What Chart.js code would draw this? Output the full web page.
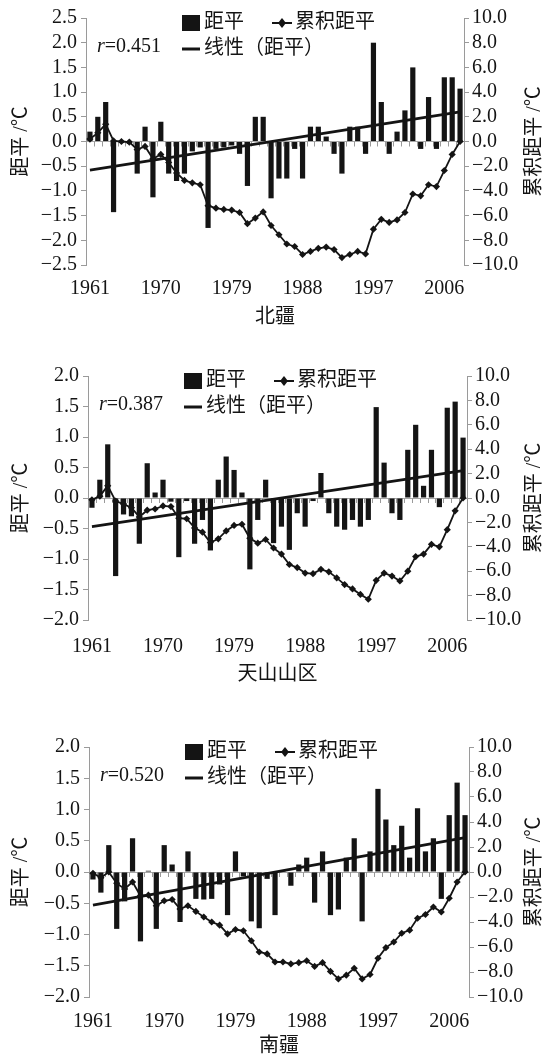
<!DOCTYPE html>
<html>
<head>
<meta charset="utf-8">
<script src="https://cdn.jsdelivr.net/npm/chart.js@4/dist/chart.umd.min.js"></script>
<style>
  html, body { margin: 0; padding: 0; background: #fff; }
  body { width: 549px; height: 1060px; position: relative; overflow: hidden; }
  canvas { position: absolute; left: 0; }
</style>
</head>
<body>
<canvas id="north" width="549" height="345" style="top:0px"></canvas>
<canvas id="tianshan" width="549" height="365" style="top:350px"></canvas>
<canvas id="south" width="549" height="345" style="top:715px"></canvas>
<script>
// Years 1961–2008
const years = [1961, 1962, 1963, 1964, 1965, 1966, 1967, 1968, 1969, 1970,
               1971, 1972, 1973, 1974, 1975, 1976, 1977, 1978, 1979, 1980,
               1981, 1982, 1983, 1984, 1985, 1986, 1987, 1988, 1989, 1990,
               1991, 1992, 1993, 1994, 1995, 1996, 1997, 1998, 1999, 2000,
               2001, 2002, 2003, 2004, 2005, 2006, 2007, 2008];
const yearTicks = [1961, 1970, 1979, 1988, 1997, 2006];

// 北疆
const northAnom = [0.2, 0.5, 0.8, -1.43, -0.03, -0.05, -0.65, 0.3, -1.13, 0.4,
                   -0.65, -0.8, -0.65, -0.2, -0.12, -1.75, -0.15, -0.12, -0.08, -0.25,
                   -0.9, 0.5, 0.5, -1.15, -0.75, -0.75, -0.15, -0.75, 0.3, 0.3,
                   0.1, -0.25, -0.65, 0.3, 0.3, -0.25, 2.0, 0.8, -0.25, 0.2,
                   0.63, 1.5, -0.15, 0.9, -0.15, 1.3, 1.3, 1.07];
const northCum = [0.2, 0.7, 1.4, 0.05, 0.0, -0.05, -0.65, -0.4, -1.4, -1.05,
                  -1.7, -2.55, -3.15, -3.35, -3.5, -5.2, -5.4, -5.5, -5.55, -5.75,
                  -6.65, -6.2, -5.7, -6.8, -7.55, -8.3, -8.5, -9.15, -8.9, -8.65,
                  -8.55, -8.75, -9.4, -9.15, -8.9, -9.1, -7.1, -6.3, -6.55, -6.35,
                  -5.75, -4.25, -4.4, -3.5, -3.65, -2.35, -1.05, 0.0];
const northTrend = [-0.58, 0.6];

// 天山山区
const tianshanAnom = [-0.16, 0.3, 0.88, -1.28, -0.27, -0.3, -0.75, 0.57, 0.09, 0.3,
                      -0.06, -0.97, -0.05, -0.75, -0.36, -0.86, 0.3, 0.68, 0.46, 0.09,
                      -1.17, -0.36, 0.3, -0.74, -0.47, -0.85, -0.25, -0.47, -0.05, 0.41,
                      -0.25, -0.47, -0.52, -0.36, -0.47, -0.36, 1.49, 0.58, -0.25, -0.36,
                      0.79, 1.2, 0.2, 0.79, -0.15, 1.48, 1.58, 0.99];
const tianshanCum = [-0.15, 0.15, 1.0, -0.25, -0.5, -0.8, -1.55, -1.0, -0.9, -0.65,
                     -0.7, -1.65, -1.7, -2.45, -2.8, -3.65, -3.35, -2.7, -2.25, -2.15,
                     -3.3, -3.7, -3.4, -4.1, -4.6, -5.45, -5.7, -6.15, -6.2, -5.85,
                     -6.05, -6.55, -7.1, -7.45, -7.9, -8.3, -6.75, -6.15, -6.4, -6.8,
                     -6.0, -4.8, -4.6, -3.8, -4.0, -2.6, -1.05, 0.0];
const tianshanTrend = [-0.47, 0.45];

// 南疆
const southAnom = [-0.12, -0.33, 0.43, -0.91, -0.47, 0.54, -1.11, 0.02, -0.91, 0.43,
                   0.12, -0.8, 0.33, -0.43, -0.44, -0.43, -0.2, -0.69, 0.33, -0.07,
                   -0.79, -0.9, -0.11, -0.69, 0.02, -0.22, 0.12, 0.23, -0.49, 0.33,
                   -0.69, -0.6, 0.23, 0.54, -0.79, 0.33, 1.33, 0.84, 0.43, 0.74,
                   0.23, 1.02, 0.33, 0.54, -0.43, 0.91, 1.43, 0.91];
const southCum = [-0.1, -0.45, 0.0, -0.9, -1.35, -0.8, -1.9, -1.85, -2.7, -2.3,
                  -2.2, -2.95, -2.7, -3.15, -3.6, -4.0, -4.25, -4.95, -4.6, -4.7,
                  -5.5, -6.4, -6.55, -7.2, -7.2, -7.35, -7.25, -7.1, -7.55, -7.25,
                  -7.95, -8.55, -8.25, -7.7, -8.55, -8.2, -6.9, -6.05, -5.6, -4.9,
                  -4.65, -3.7, -3.4, -2.8, -3.2, -2.1, -0.8, 0.0];
const southTrend = [-0.53, 0.55];

const panelTitles = ['北疆', '天山山区', '南疆'];
const rValues = ['0.451', '0.387', '0.520'];

const SERIF = '"Liberation Serif", "Times New Roman", serif';
const CJK = '"Liberation Serif", "Noto Sans CJK SC", serif';
const INK = '#141414';
const AXIS = '#9a9a9a';

function fmt(v) {
  const s = Math.abs(v) < 1e-9 ? '0.0' : Number(v).toFixed(1);
  return s.replace('-', '\u2212');
}

function vText(ctx, text, x, y) {
  ctx.save();
  ctx.translate(x, y);
  ctx.rotate(-Math.PI / 2);
  ctx.fillText(text, 0, 0);
  ctx.restore();
}

// Zero-line tick marks, axis titles, panel title, correlation and legend
const decor = {
  id: 'decor',
  beforeDatasetsDraw(chart) {
    const { ctx, chartArea: a, scales } = chart;
    const y0 = scales.y.getPixelForValue(0);
    const n = chart.data.labels.length;
    const w = (a.right - a.left) / n;
    ctx.save();
    ctx.strokeStyle = AXIS;
    ctx.lineWidth = 1;
    ctx.beginPath();
    for (let i = 0; i <= n; i++) {
      const x = Math.round(a.left + i * w) + 0.5;
      ctx.moveTo(x, y0);
      ctx.lineTo(x, y0 + 5);
    }
    ctx.stroke();
    ctx.restore();
  },
  afterDraw(chart, args, opts) {
    const { ctx, chartArea: a } = chart;
    const ds = chart.data.datasets;
    ctx.save();
    ctx.fillStyle = INK;
    ctx.strokeStyle = INK;
    ctx.textBaseline = 'middle';
    ctx.textAlign = 'center';
    ctx.font = '20px ' + CJK;
    const cy = (a.top + a.bottom) / 2;
    vText(ctx, '距平 /℃', 22, cy);
    vText(ctx, '累积距平 /℃', 535, cy);
    ctx.fillText(opts.title, (a.left + a.right) / 2, a.bottom + opts.titleGap);

    // correlation coefficient
    ctx.textAlign = 'left';
    const rx = a.left + 11, ry = a.top + 29;
    ctx.font = 'italic 20px ' + SERIF;
    ctx.fillText('r', rx, ry);
    const rw = ctx.measureText('r').width;
    ctx.font = '20px ' + SERIF;
    ctx.fillText('=' + opts.r, rx + rw, ry);

    // legend
    const lx = a.left + 96;
    const r1 = a.top + 5, r2 = a.top + 31;
    ctx.font = '20px ' + CJK;
    ctx.fillRect(lx, r1 - 8, 18, 16);
    ctx.fillText(ds[0].label, lx + 22, r1);
    const mx = a.left + 186;
    ctx.lineWidth = 2;
    ctx.beginPath(); ctx.moveTo(mx, r1); ctx.lineTo(mx + 20, r1); ctx.stroke();
    ctx.beginPath();
    ctx.moveTo(mx + 10, r1 - 5); ctx.lineTo(mx + 14, r1);
    ctx.lineTo(mx + 10, r1 + 5); ctx.lineTo(mx + 6, r1); ctx.closePath(); ctx.fill();
    ctx.fillText(ds[1].label, mx + 23, r1);
    ctx.lineWidth = 3;
    ctx.beginPath(); ctx.moveTo(lx, r2); ctx.lineTo(lx + 18, r2); ctx.stroke();
    ctx.fillText(ds[2].label, lx + 22, r2);
    ctx.restore();
  }
};

function trendSeries(ends) {
  return years.map((_, i) => i === 0 ? ends[0] : (i === years.length - 1 ? ends[1] : null));
}

function makePanel(id, cfg) {
  const canvas = document.getElementById(id);
  const H = canvas.height;
  new Chart(canvas, {
    data: {
      labels: years,
      datasets: [
        { type: 'bar', label: '距平', data: cfg.anom, yAxisID: 'y',
          backgroundColor: INK, barPercentage: 0.66, categoryPercentage: 1.0, order: 3 },
        { type: 'line', label: '累积距平', data: cfg.cum, yAxisID: 'y1',
          borderColor: INK, borderWidth: 1.8, tension: 0,
          pointStyle: 'rectRot', pointRadius: 3.6, pointBackgroundColor: INK,
          pointBorderColor: INK, pointBorderWidth: 0, order: 1 },
        { type: 'line', label: '线性（距平）', data: trendSeries(cfg.trend), yAxisID: 'y',
          borderColor: INK, borderWidth: 2.8, pointRadius: 0, spanGaps: true, order: 2 }
      ]
    },
    options: {
      responsive: false,
      animation: false,
      layout: { padding: { top: cfg.plotTop, left: 0, right: 0, bottom: 0 } },
      plugins: {
        legend: { display: false },
        tooltip: { enabled: false },
        decor: { title: cfg.title, r: cfg.r, titleGap: cfg.titleGap }
      },
      scales: {
        x: {
          type: 'category',
          offset: true,
          grid: { display: false },
          border: { display: false },
          ticks: {
            autoSkip: false, maxRotation: 0, minRotation: 0, padding: cfg.xPad,
            color: INK, font: { family: SERIF, size: 20 },
            callback: (v, i) => yearTicks.includes(years[i]) ? String(years[i]) : ''
          },
          afterFit: s => { s.height = H - cfg.plotBottom; }
        },
        y: {
          position: 'left',
          min: cfg.yMin, max: cfg.yMax,
          afterFit: s => { s.width = cfg.plotLeft; },
          ticks: { stepSize: 0.5, autoSkip: false, padding: 4, color: INK,
                   font: { family: SERIF, size: 20 }, callback: v => fmt(v) },
          grid: {
            drawOnChartArea: true, lineWidth: 1, tickLength: 5, tickColor: AXIS,
            color: c => (c.tick && Math.abs(c.tick.value) < 1e-9) ? '#a6a6a6' : 'rgba(0,0,0,0)'
          },
          border: { color: AXIS, width: 1 }
        },
        y1: {
          position: 'right',
          min: -10, max: 10,
          afterFit: s => { s.width = 549 - cfg.plotRight; },
          ticks: { stepSize: 2, autoSkip: false, padding: 3, color: INK,
                   font: { family: SERIF, size: 20 }, callback: v => fmt(v) },
          grid: { drawOnChartArea: false, tickLength: 5, tickColor: AXIS, color: AXIS },
          border: { color: AXIS, width: 1 }
        }
      }
    },
    plugins: [decor]
  });
}

makePanel('north', {
  anom: northAnom, cum: northCum, trend: northTrend,
  title: panelTitles[0], r: rValues[0], yMin: -2.5, yMax: 2.5,
  plotTop: 18, plotBottom: 265, plotLeft: 86, plotRight: 464, xPad: 4, titleGap: 53
});
makePanel('tianshan', {
  anom: tianshanAnom, cum: tianshanCum, trend: tianshanTrend,
  title: panelTitles[1], r: rValues[1], yMin: -2.0, yMax: 2.0,
  plotTop: 26, plotBottom: 270, plotLeft: 88, plotRight: 467, xPad: 7, titleGap: 55
});
makePanel('south', {
  anom: southAnom, cum: southCum, trend: southTrend,
  title: panelTitles[2], r: rValues[2], yMin: -2.0, yMax: 2.0,
  plotTop: 32, plotBottom: 282, plotLeft: 89, plotRight: 469, xPad: 5, titleGap: 50
});
</script>
</body>
</html>
